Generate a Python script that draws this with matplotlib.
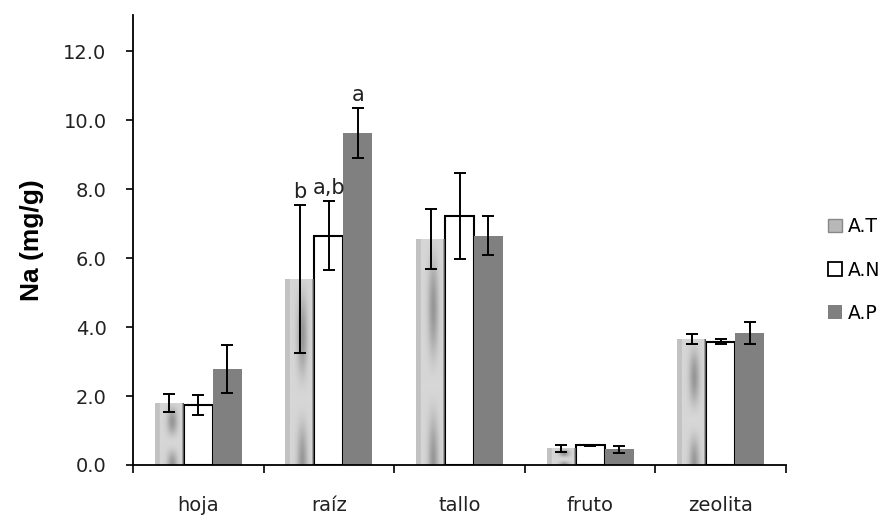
import numpy as np
import matplotlib.pyplot as plt
from matplotlib.patches import Patch

categories = ['hoja', 'raíz', 'tallo', 'fruto', 'zeolita']
series = ['A.T', 'A.N', 'A.P']

at_mean = [1.80, 5.40, 6.55, 0.48, 3.65]
at_err = [0.27, 2.15, 0.87, 0.10, 0.15]
an_mean = [1.75, 6.65, 7.22, 0.57, 3.58]
an_err = [0.29, 1.00, 1.25, 0.02, 0.07]
ap_mean = [2.78, 9.63, 6.65, 0.45, 3.82]
ap_err = [0.70, 0.73, 0.56, 0.09, 0.32]

# letters above the raiz bars
letters_raiz = ['b', 'a,b', 'a']

plt.rcParams['font.family'] = 'DejaVu Sans'

fig = plt.figure(figsize=(8.84, 5.21), dpi=100)
ax = fig.add_axes([133 / 884, 1 - 465 / 521, 653 / 884, 450 / 521])

x = np.arange(len(categories))
w = 0.222

bars_at = ax.bar(x - w, at_mean, w, color='#c8c8c8', zorder=2)
bars_an = ax.bar(x, an_mean, w, color='white', edgecolor='black', linewidth=1.5, zorder=2)
bars_ap = ax.bar(x + w, ap_mean, w, color='#808080', zorder=2)

# error bars on top of everything
for off, m, e in [(-w, at_mean, at_err), (0, an_mean, an_err), (w, ap_mean, ap_err)]:
    ax.errorbar(x + off, m, yerr=e, fmt='none', ecolor='black', elinewidth=1.4,
                capsize=4.5, capthick=1.4, zorder=4)

# shaded texture on the A.T bars
gx = np.linspace(0, 1, 60)
gy = np.linspace(0, 1, 120)
GX, GY = np.meshgrid(gx, gy)
shade = 0.84 - 0.25 * np.exp(-((GX - 0.6) / 0.18) ** 2) * (0.5 + 0.5 * np.cos(GY * 9))
shade[:, :10] = 0.76
shade[:, -3:] = 0.35
for b in bars_at:
    x0, h = b.get_x(), b.get_height()
    im = ax.imshow(shade, extent=(x0, x0 + b.get_width(), 0, h), origin='lower',
                   cmap='gray', vmin=0, vmax=1, aspect='auto', zorder=2.1)
    im.set_clip_path(b)

i_raiz = categories.index('raíz')
tops = [at_mean[i_raiz] + at_err[i_raiz], an_mean[i_raiz] + an_err[i_raiz],
        ap_mean[i_raiz] + ap_err[i_raiz]]
for k, (lab, top) in enumerate(zip(letters_raiz, tops)):
    ax.text(i_raiz + (k - 1) * w, top + 0.08, lab, ha='center', va='bottom',
            fontsize=15, color='#222222')

ax.set_xlim(-0.5, len(categories) - 0.5)
ax.set_ylim(0, 13.05)
ax.set_yticks(np.arange(0, 12.1, 2.0))
ax.set_yticklabels([f'{v:.1f}' for v in np.arange(0, 12.1, 2.0)])
ax.set_xticks(x)
ax.set_xticklabels(categories)
ax.set_xticks(np.arange(-0.5, len(categories)), minor=True)
ax.tick_params(axis='x', which='major', length=0, pad=22, labelsize=14, labelcolor='#222222')
ax.tick_params(axis='x', which='minor', length=6, width=1.2, direction='out')
ax.tick_params(axis='y', length=5, width=1.2, direction='out', labelsize=14,
               labelcolor='#222222', pad=14)

for s in ['top', 'right']:
    ax.spines[s].set_visible(False)
for s in ['left', 'bottom']:
    ax.spines[s].set_linewidth(1.3)

ax.set_ylabel('Na (mg/g)', fontsize=19, fontweight='bold', family='Liberation Sans', labelpad=14)

handles = [Patch(facecolor='#b8b8b8', edgecolor='#888888'),
           Patch(facecolor='white', edgecolor='black', linewidth=1.3),
           Patch(facecolor='#808080')]
fig.legend(handles, series, loc='center left', bbox_to_anchor=(819 / 884, 1 - 270 / 521),
           frameon=False, fontsize=13.5, labelspacing=1.3, handlelength=0.75,
           handleheight=0.75, handletextpad=0.3, borderpad=0)

fig.savefig('out.png', dpi=100)
